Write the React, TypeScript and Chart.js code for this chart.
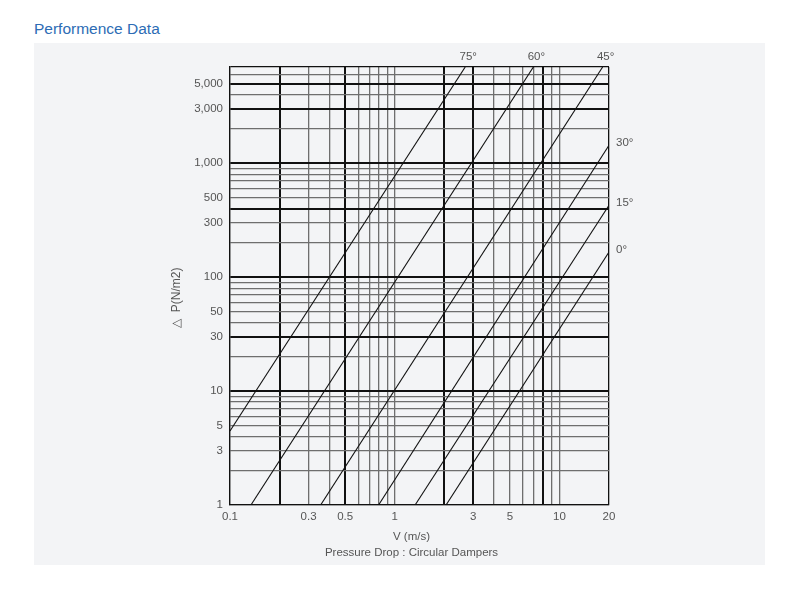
import { useEffect, useRef } from "react";
import { Chart, registerables, type Plugin } from "chart.js";

Chart.register(...registerables);

const FONT = '"Liberation Sans", Arial, Helvetica, sans-serif';

// one line per damper blade angle: ΔP against V, read at the ends of each line
const angleLabels = ["75°", "60°", "45°", "30°", "15°", "0°"];
const velocityStart = [0.1, 0.134, 0.355, 0.798, 1.33, 2.05];
const velocityEnd = [2.68, 6.95, 18.3, 20, 20, 20];
const pressureStart = [4.47, 1, 1, 1, 1, 1];
const pressureEnd = [7000, 7000, 7000, 1439, 428, 166];

// grid of the log-log paper
const velocityGrid = [0.1, 0.2, 0.3, 0.4, 0.5, 0.6, 0.7, 0.8, 0.9, 1, 2, 3, 4, 5, 6, 7, 8, 9, 10, 20];
const velocityLabels = [0.1, 0.3, 0.5, 1, 3, 5, 10, 20];
const velocityMajor = [0.2, 0.5, 2, 3, 8];
const pressureGrid = [
  1, 2, 3, 4, 5, 6, 7, 8, 9, 10, 20, 30, 40, 50, 60, 70, 80, 90, 100, 200, 300, 400, 500, 600, 700, 800, 900,
  1000, 2000, 3000, 4000, 5000, 6000, 7000
];
const pressureLabels = [1, 3, 5, 10, 30, 50, 100, 300, 500, 1000, 3000, 5000];
const pressureMajor = [10, 30, 100, 400, 1000, 3000, 5000];

const MAJOR = "#111";
const MINOR = "#6e6e6e";
const TEXT = "#555";

/** Writes the blade angle at the end of each line: above the frame or to its right. */
const angleLabelPlugin: Plugin<"scatter"> = {
  id: "angleLabels",
  afterDatasetsDraw(chart) {
    const { ctx, chartArea } = chart;
    ctx.save();
    ctx.font = `11.5px ${FONT}`;
    ctx.fillStyle = TEXT;
    ctx.textBaseline = "middle";
    chart.data.datasets.forEach((_, i) => {
      const meta = chart.getDatasetMeta(i);
      const end = meta.data[meta.data.length - 1];
      if (!end) return;
      if (end.y <= chartArea.top + 1) {
        ctx.textAlign = "center";
        ctx.fillText(angleLabels[i], end.x + 3, chartArea.top - 10);
      } else {
        ctx.textAlign = "left";
        ctx.fillText(angleLabels[i], chartArea.right + 7, end.y - 2);
      }
    });
    ctx.restore();
  }
};

function PressureDropChart() {
  const canvasRef = useRef<HTMLCanvasElement>(null);

  useEffect(() => {
    const canvas = canvasRef.current;
    if (!canvas) return;

    const chart = new Chart(canvas, {
      type: "scatter",
      data: {
        datasets: angleLabels.map((label, i) => ({
          label,
          data: [
            { x: velocityStart[i], y: pressureStart[i] },
            { x: velocityEnd[i], y: pressureEnd[i] }
          ],
          showLine: true,
          borderColor: "#111",
          borderWidth: 1.1,
          pointRadius: 0,
          pointHoverRadius: 0
        }))
      },
      options: {
        animation: false,
        responsive: true,
        maintainAspectRatio: false,
        layout: { padding: { left: 160, right: 191, top: 67, bottom: 35 } },
        plugins: { legend: { display: false }, tooltip: { enabled: false } },
        scales: {
          x: {
            type: "logarithmic",
            min: 0.1,
            max: 20,
            afterBuildTicks: (scale) => {
              scale.ticks = velocityGrid.map((value) => ({ value }));
            },
            afterFit: (scale) => {
              scale.height = 60;
            },
            grid: {
              drawTicks: false,
              color: (ctx) => (velocityMajor.includes(ctx.tick?.value) || ctx.tick?.value === 20 ? MAJOR : MINOR),
              lineWidth: (ctx) => (velocityMajor.includes(ctx.tick?.value) ? 2 : 1.3)
            },
            border: { color: MAJOR, width: 1.3 },
            ticks: {
              autoSkip: false,
              maxRotation: 0,
              padding: 5,
              color: TEXT,
              font: { size: 11.5, family: FONT },
              callback: (value) => (velocityLabels.includes(Number(value)) ? String(value) : "")
            },
            title: {
              display: true,
              text: ["V (m/s)     ", "Pressure Drop : Circular Dampers     "],
              color: TEXT,
              font: { size: 11.5, family: FONT, lineHeight: 1.39 },
              padding: { top: 0, bottom: 4 }
            }
          },
          y: {
            type: "logarithmic",
            min: 1,
            max: 7000,
            afterBuildTicks: (scale) => {
              scale.ticks = pressureGrid.map((value) => ({ value }));
            },
            afterFit: (scale) => {
              scale.width = 70;
            },
            grid: {
              drawTicks: false,
              color: (ctx) => (pressureMajor.includes(ctx.tick?.value) || ctx.tick?.value === 7000 ? MAJOR : MINOR),
              lineWidth: (ctx) => (pressureMajor.includes(ctx.tick?.value) ? 2 : 1.3)
            },
            border: { color: MAJOR, width: 1.3 },
            ticks: {
              autoSkip: false,
              padding: 7,
              color: TEXT,
              font: { size: 11.5, family: FONT },
              callback: (value) =>
                pressureLabels.includes(Number(value)) ? Number(value).toLocaleString("en-US") : ""
            },
            title: {
              display: true,
              text: "△  P(N/m2)       ",
              color: TEXT,
              font: { size: 12, family: FONT },
              padding: { top: 9, bottom: 0 }
            }
          }
        }
      },
      plugins: [angleLabelPlugin]
    });

    return () => chart.destroy();
  }, []);

  return (
    <div style={{ position: "absolute", left: 0, top: 0, width: 800, height: 600 }}>
      <canvas ref={canvasRef} />
    </div>
  );
}

export default function App() {
  return (
    <div style={{ position: "absolute", left: 0, top: 0, width: 800, height: 600, fontFamily: FONT }}>
      <div style={{ position: "absolute", left: 34, top: 20, fontSize: 15.5, lineHeight: "18px", color: "#2d6cb5" }}>
        Performence Data
      </div>
      <div style={{ position: "absolute", left: 34, top: 43, width: 731, height: 522, background: "#f3f4f6" }} />
      <PressureDropChart />
    </div>
  );
}
